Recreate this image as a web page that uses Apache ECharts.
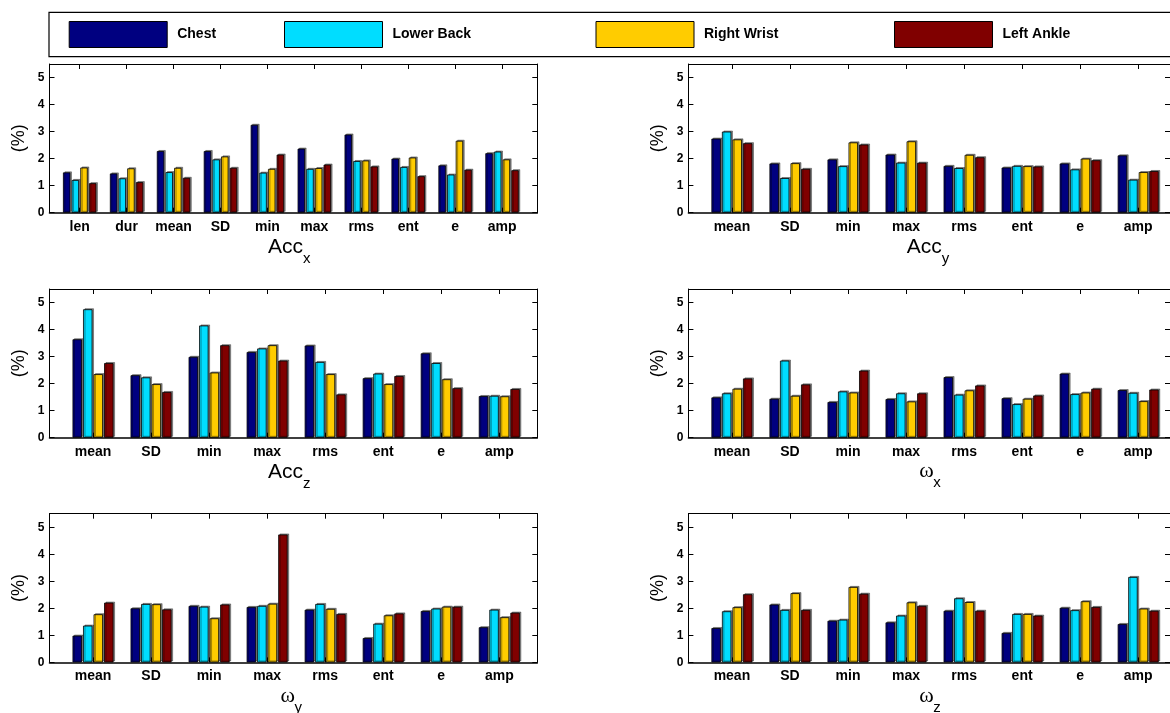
<!DOCTYPE html>
<html><head><meta charset="utf-8">
<script src="https://cdn.jsdelivr.net/npm/echarts@6/dist/echarts.min.js"></script>
<style>html,body{margin:0;padding:0;background:#fff}#c{width:1170px;height:713px}</style>
</head><body><div id="c"></div>
<script>
// ---------- data ----------
const sensors = ['Chest', 'Lower Back', 'Right Wrist', 'Left Ankle'];
const catsAccX = ['len', 'dur', 'mean', 'SD', 'min', 'max', 'rms', 'ent', 'e', 'amp'];
const cats8 = ['mean', 'SD', 'min', 'max', 'rms', 'ent', 'e', 'amp'];
const yTicks = [0, 1, 2, 3, 4, 5];

const accX_chest      = [1.49, 1.45, 2.28, 2.28, 3.25, 2.37, 2.89, 2.00, 1.75, 2.20];
const accX_lowerBack  = [1.21, 1.27, 1.50, 1.97, 1.48, 1.62, 1.91, 1.69, 1.41, 2.26];
const accX_rightWrist = [1.67, 1.64, 1.66, 2.08, 1.62, 1.65, 1.93, 2.04, 2.66, 1.97];
const accX_leftAnkle  = [1.09, 1.13, 1.29, 1.66, 2.15, 1.78, 1.71, 1.35, 1.59, 1.57];

const accY_chest      = [2.74, 1.82, 1.97, 2.15, 1.73, 1.67, 1.82, 2.12];
const accY_lowerBack  = [3.00, 1.28, 1.72, 1.85, 1.65, 1.73, 1.60, 1.22];
const accY_rightWrist = [2.71, 1.83, 2.60, 2.64, 2.14, 1.72, 2.00, 1.50];
const accY_leftAnkle  = [2.57, 1.62, 2.52, 1.85, 2.05, 1.71, 1.94, 1.54];

const accZ_chest      = [3.64, 2.31, 2.99, 3.17, 3.41, 2.20, 3.12, 1.54];
const accZ_lowerBack  = [4.75, 2.23, 4.15, 3.30, 2.80, 2.37, 2.76, 1.55];
const accZ_rightWrist = [2.35, 1.98, 2.41, 3.42, 2.35, 1.98, 2.16, 1.53];
const accZ_leftAnkle  = [2.76, 1.69, 3.42, 2.85, 1.60, 2.28, 1.83, 1.80];

const omegaX_chest      = [1.49, 1.44, 1.32, 1.43, 2.24, 1.46, 2.37, 1.76];
const omegaX_lowerBack  = [1.64, 2.85, 1.71, 1.64, 1.59, 1.24, 1.61, 1.66];
const omegaX_rightWrist = [1.81, 1.55, 1.67, 1.34, 1.75, 1.44, 1.67, 1.35];
const omegaX_leftAnkle  = [2.19, 1.97, 2.48, 1.64, 1.93, 1.56, 1.81, 1.78];

const omegaY_chest      = [0.99, 2.00, 2.09, 2.05, 1.95, 0.90, 1.90, 1.30];
const omegaY_lowerBack  = [1.36, 2.16, 2.06, 2.09, 2.16, 1.43, 1.99, 1.95];
const omegaY_rightWrist = [1.78, 2.15, 1.63, 2.17, 1.98, 1.74, 2.06, 1.67];
const omegaY_leftAnkle  = [2.21, 1.96, 2.14, 4.73, 1.79, 1.81, 2.06, 1.84];

const omegaZ_chest      = [1.27, 2.14, 1.54, 1.48, 1.91, 1.09, 2.02, 1.42];
const omegaZ_lowerBack  = [1.89, 1.94, 1.58, 1.73, 2.37, 1.79, 1.93, 3.16];
const omegaZ_rightWrist = [2.04, 2.56, 2.79, 2.22, 2.23, 1.79, 2.26, 1.99];
const omegaZ_leftAnkle  = [2.52, 1.94, 2.54, 2.09, 1.91, 1.73, 2.05, 1.91];

const panels = [
  {main: 'Acc', sub: 'x', greek: false, cats: catsAccX, data: [accX_chest, accX_lowerBack, accX_rightWrist, accX_leftAnkle]},
  {main: 'Acc', sub: 'y', greek: false, cats: cats8, data: [accY_chest, accY_lowerBack, accY_rightWrist, accY_leftAnkle]},
  {main: 'Acc', sub: 'z', greek: false, cats: cats8, data: [accZ_chest, accZ_lowerBack, accZ_rightWrist, accZ_leftAnkle]},
  {main: '\u03C9', sub: 'x', greek: true, cats: cats8, data: [omegaX_chest, omegaX_lowerBack, omegaX_rightWrist, omegaX_leftAnkle]},
  {main: '\u03C9', sub: 'y', greek: true, cats: cats8, data: [omegaY_chest, omegaY_lowerBack, omegaY_rightWrist, omegaY_leftAnkle]},
  {main: '\u03C9', sub: 'z', greek: true, cats: cats8, data: [omegaZ_chest, omegaZ_lowerBack, omegaZ_rightWrist, omegaZ_leftAnkle]}
];

// ---------- style / layout ----------
const colors = ['#000080', '#00DDFF', '#FFCC00', '#800000'];
const FONT = '"Liberation Sans", Arial, Helvetica, sans-serif';
const SERIF = '"Liberation Serif", "Times New Roman", serif';
const colLeft = [49.5, 688.4];
const rowTop = [64, 289, 513.7];
const frameW = 487.8, frameH = 148.7;
const legendX = [68.7, 284, 595.5, 894];

const grid = [], xAxis = [], yAxis = [], series = [], graphic = [];

panels.forEach((p, i) => {
  const col = i % 2;
  const row = Math.floor(i / 2);
  const fl = colLeft[col], ft = rowTop[row];
  const n = p.cats.length;
  const band = n === 10 ? 46.93 : 58.04;
  const innerOff = n === 10 ? 6.7 : 14.5;
  const gF = grid.length, gI = gF + 1;
  grid.push({left: fl, top: ft, width: frameW, height: frameH, containLabel: false});
  grid.push({left: fl + innerOff, top: ft, width: band * n, height: frameH, containLabel: false});

  const lineAxis = (pos, w) => ({
    gridIndex: gF, type: 'value', min: 0, max: 1, position: pos, z: 3,
    axisLine: {show: true, onZero: false, lineStyle: {color: '#000', width: w}},
    axisTick: {show: false}, axisLabel: {show: false}, splitLine: {show: false}
  });
  xAxis.push(lineAxis('bottom', 1.6));
  xAxis.push(lineAxis('top', 1));
  const xI = xAxis.length;
  xAxis.push({
    gridIndex: gI, type: 'category', data: p.cats, position: 'bottom', z: 3,
    axisLine: {show: false, onZero: false},
    axisTick: {show: true, inside: true, alignWithLabel: true, length: 5, lineStyle: {color: '#000'}},
    axisLabel: {interval: 0, margin: 7, fontSize: 14, fontWeight: 'bold', color: '#000', fontFamily: FONT},
    splitLine: {show: false}
  });
  xAxis.push({
    gridIndex: gI, type: 'category', data: p.cats, position: 'top', z: 3,
    axisLine: {show: false, onZero: false},
    axisTick: {show: true, inside: true, alignWithLabel: true, length: 5, lineStyle: {color: '#000'}},
    axisLabel: {show: false}, splitLine: {show: false}
  });

  yAxis.push({
    gridIndex: gF, type: 'value', min: 0, max: 5.5, interval: 1, position: 'left', z: 3,
    name: '(%)', nameLocation: 'middle', nameGap: 21, nameRotate: 90,
    nameTextStyle: {fontSize: 18, color: '#000', fontFamily: FONT},
    axisLine: {show: true, onZero: false, lineStyle: {color: '#000', width: 1}},
    axisTick: {show: true, inside: true, length: 5, lineStyle: {color: '#000'}},
    axisLabel: {margin: 5, fontSize: 12, fontWeight: 'bold', color: '#000', fontFamily: FONT,
      formatter: v => (yTicks.indexOf(v) >= 0 ? String(v) : '')},
    splitLine: {show: false}
  });
  yAxis.push({
    gridIndex: gF, type: 'value', min: 0, max: 5.5, interval: 1, position: 'right', z: 3,
    axisLine: {show: true, onZero: false, lineStyle: {color: '#000', width: 1}},
    axisTick: {show: true, inside: true, length: 5, lineStyle: {color: '#000'}},
    axisLabel: {show: false}, splitLine: {show: false}
  });
  const yI = yAxis.length;
  yAxis.push({gridIndex: gI, type: 'value', min: 0, max: 5.5, show: false});

  p.data.forEach((d, k) => {
    series.push({
      type: 'bar', name: sensors[k], xAxisIndex: xI, yAxisIndex: yI, data: d,
      barWidth: n === 10 ? 7.4 : 9.4, barGap: n === 10 ? '17%' : '12%',
      itemStyle: {color: colors[k], borderColor: '#000', borderWidth: 0.8,
        shadowColor: 'rgba(0,0,0,0.45)', shadowOffsetX: 1.5, shadowOffsetY: -1, shadowBlur: 0},
      emphasis: {disabled: true}, animation: false
    });
  });

  // axis title with subscript
  const cx = fl + frameW / 2;
  const zeroY = ft + frameH;
  if (!p.greek) {
    graphic.push({type: 'text', x: cx - 25.5, y: zeroY + 34.5,
      style: {text: p.main, font: '21px ' + FONT, fill: '#000', align: 'left', verticalAlign: 'middle'}});
    graphic.push({type: 'text', x: cx + 9.5, y: zeroY + 46,
      style: {text: p.sub, font: '15px ' + FONT, fill: '#000', align: 'left', verticalAlign: 'middle'}});
  } else {
    graphic.push({type: 'text', x: cx - 13, y: zeroY + 34,
      style: {text: p.main, font: '22px ' + SERIF, fill: '#000', align: 'left', verticalAlign: 'middle'}});
    graphic.push({type: 'text', x: cx + 1, y: zeroY + 45.5,
      style: {text: p.sub, font: '15px ' + FONT, fill: '#000', align: 'left', verticalAlign: 'middle'}});
  }
});

// legend frame
graphic.push({type: 'rect', shape: {x: 49, y: 12.3, width: 1130, height: 44.4},
  style: {fill: 'none', stroke: '#000', lineWidth: 1.2}, z: 0});

const legend = sensors.map((s, i) => ({
  data: [s], left: legendX[i], top: 21, padding: 0, icon: 'rect',
  itemWidth: 98, itemHeight: 26, selectedMode: false,
  itemStyle: {borderColor: '#000', borderWidth: 1},
  textStyle: {fontSize: 14, fontWeight: 'bold', color: '#000', fontFamily: FONT, padding: [0, 0, 0, 5]}
}));

const chart = echarts.init(document.getElementById('c'), null, {renderer: 'canvas'});
chart.setOption({animation: false, backgroundColor: '#fff', grid, xAxis, yAxis, series, legend, graphic});
</script></body></html>
